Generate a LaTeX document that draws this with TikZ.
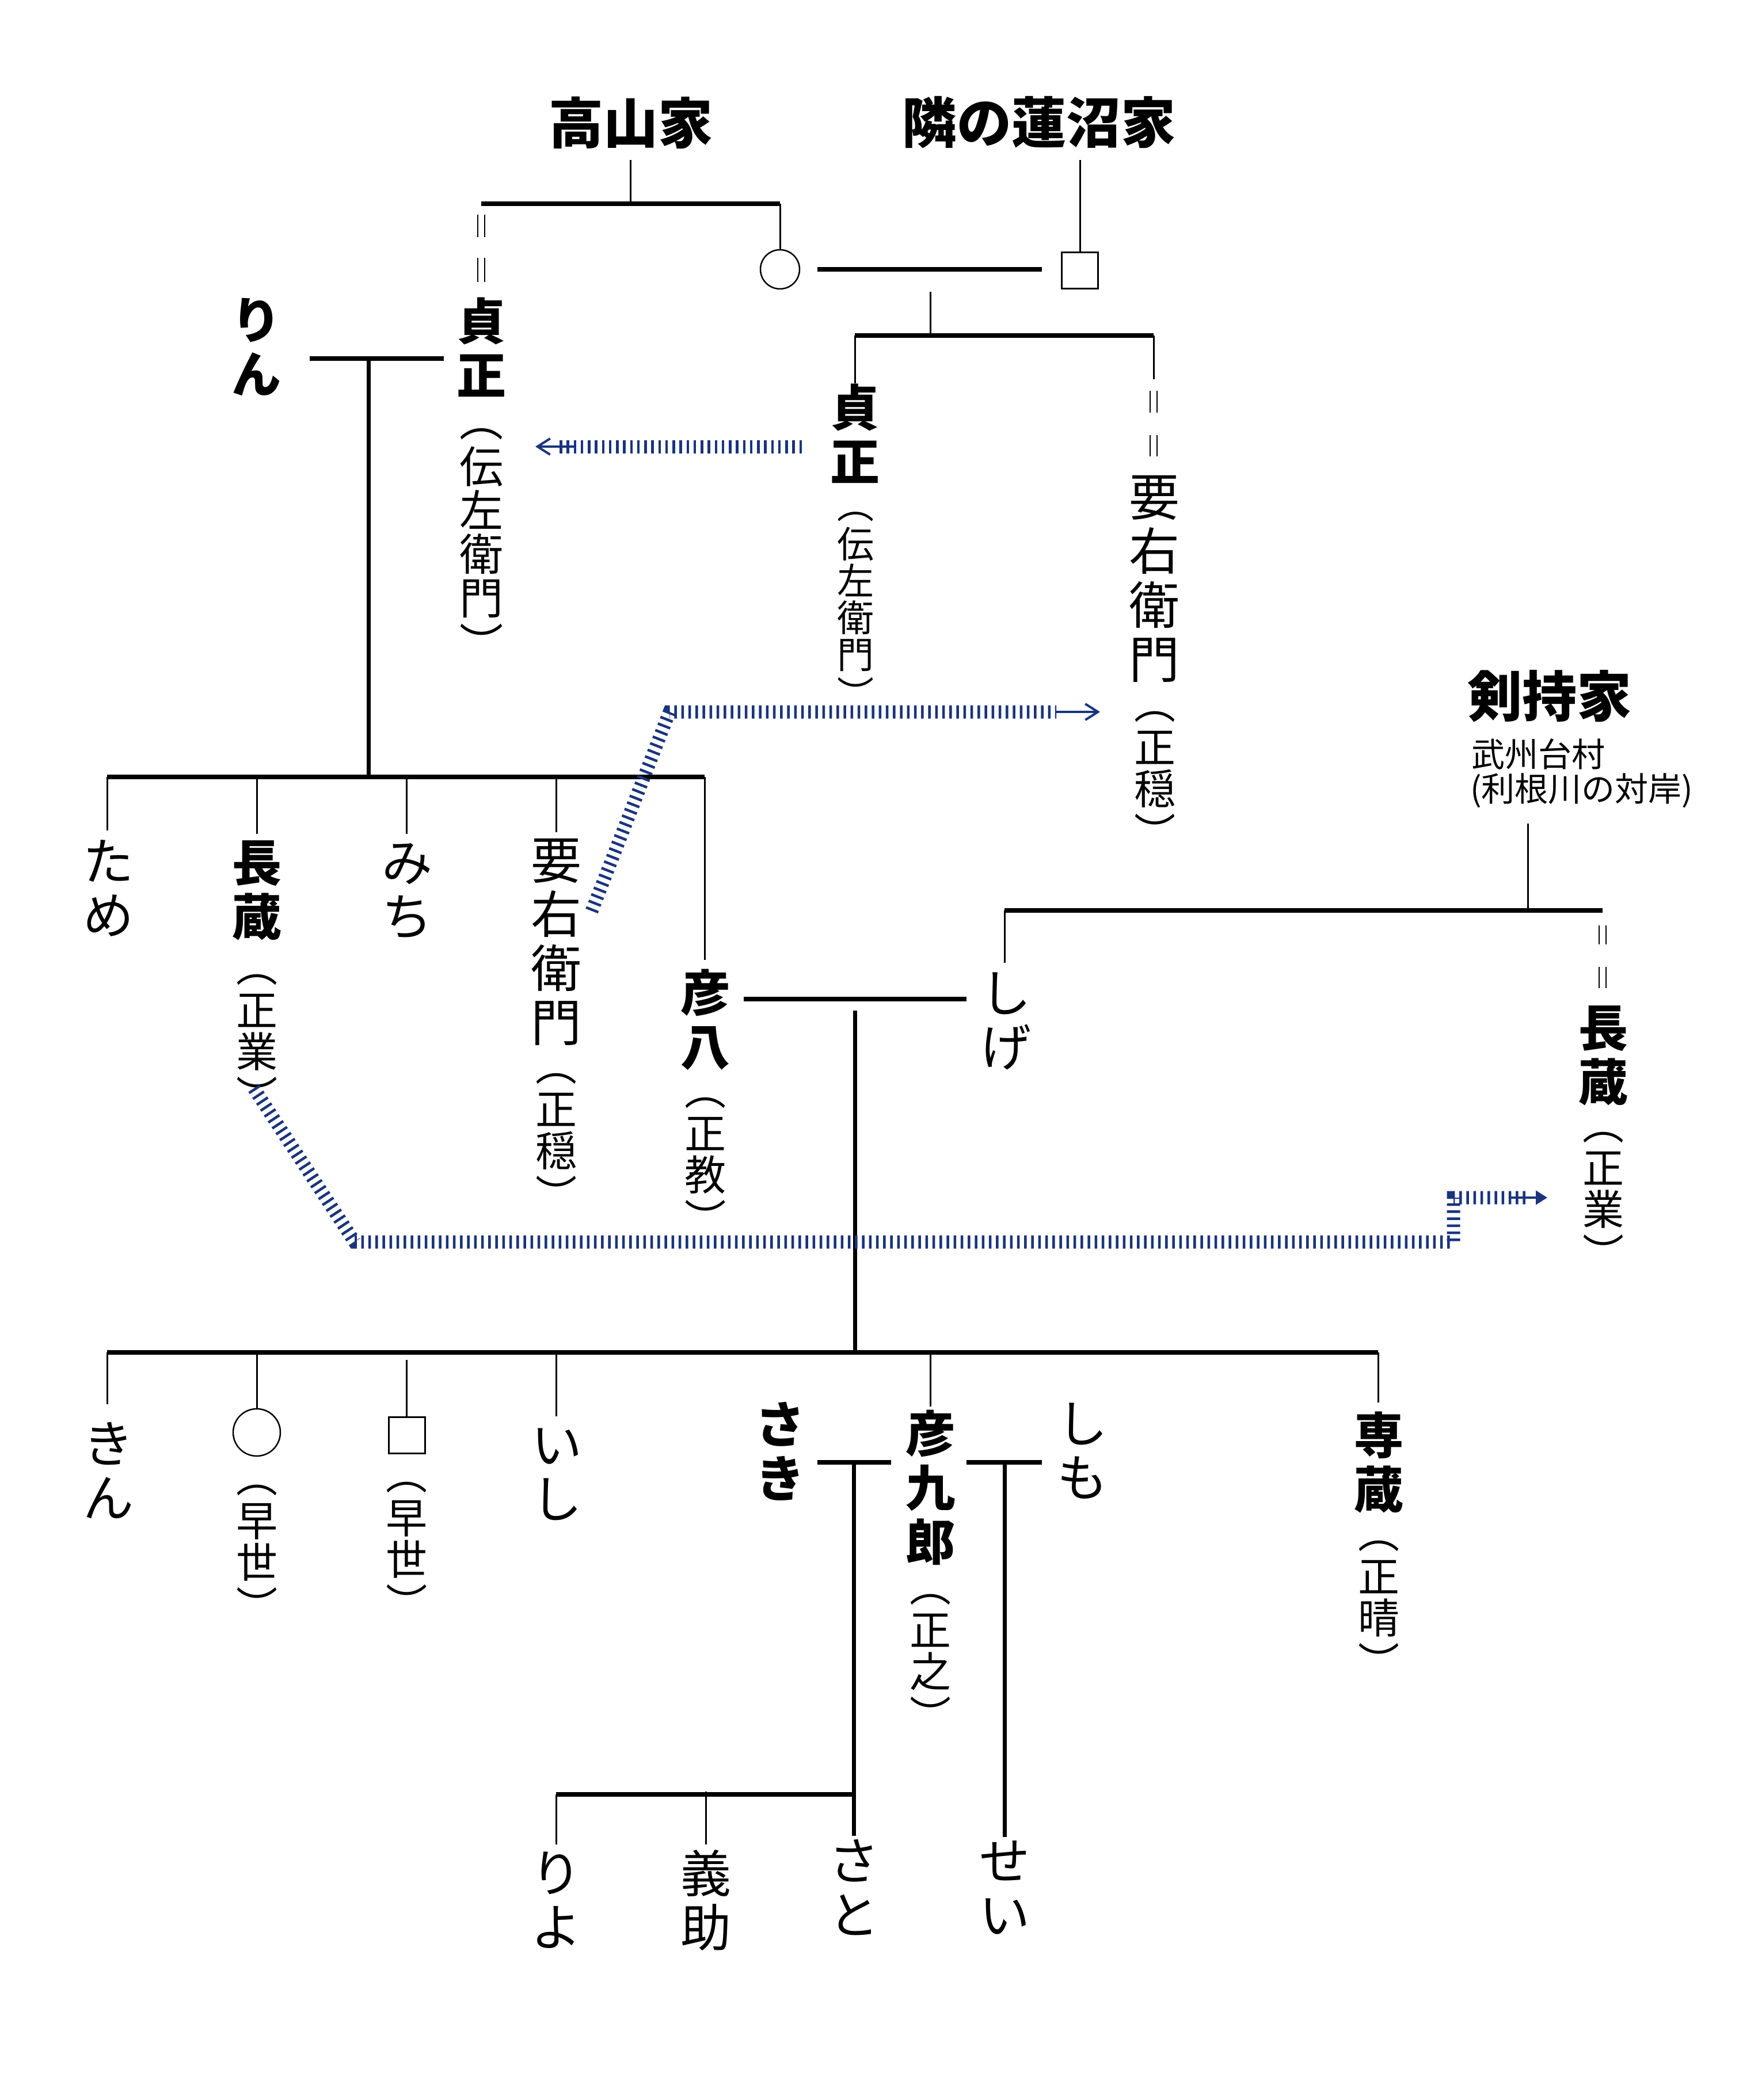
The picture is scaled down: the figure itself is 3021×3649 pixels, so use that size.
\documentclass[tikz,border=0pt]{standalone}
\usepackage{fontspec}
\setmainfont{Noto Sans CJK JP}
\usetikzlibrary{arrows.meta}
\definecolor{navyhatch}{RGB}{26,52,125}
\newcommand{\fsz}[2]{\fontsize{#1}{#2}\selectfont\lineskiplimit=-100pt\lineskip=0pt}
\newcommand{\eqbars}[3]{\draw[lnmark] (#1-5.8,#2) -- (#1-5.8,#3) (#1+5.8,#2) -- (#1+5.8,#3);}
\newcommand{\vnote}[1]{︵\\[0.9pt]#1\\[0.9pt]︶}
\tikzset{
  lnthin/.style={line width=0.6pt},
  lnmark/.style={line width=0.5pt},
  lnbar/.style={line width=1.6pt},
  lndesc/.style={line width=1.4pt},
  vb/.style={align=center,inner sep=0pt,font=\bfseries\fsz{17.2pt}{18.8pt}},
  vr/.style={align=center,inner sep=0pt,font=\fsz{17.6pt}{18.8pt}},
  vn/.style={align=center,inner sep=0pt,font=\fsz{14.4pt}{14.4pt}},
  vnL/.style={align=center,inner sep=0pt,font=\fsz{15.2pt}{15.2pt}},
  vnS/.style={align=center,inner sep=0pt,font=\fsz{12.8pt}{12.8pt}},
  head/.style={inner sep=0pt,font=\bfseries\fsz{19pt}{19pt}},
  loc/.style={inner sep=0pt,anchor=west,font=\fsz{11.6pt}{12pt}},
  fem/.style={draw,circle,inner sep=0pt,outer sep=0pt,line width=0.5pt},
  mal/.style={draw,rectangle,inner sep=0pt,outer sep=0pt,line width=0.5pt,minimum size=12.6pt},
  hatch/.style={draw=navyhatch,line width=4.6pt,dash pattern=on 0.9pt off 1.55pt},
  hatcharrow/.style={draw=navyhatch,line width=0.8pt,-{Straight Barb[length=4.4pt,width=5.6pt]}},
  hatchtri/.style={draw=navyhatch,line width=0.8pt,-{Triangle[length=4pt,width=4.8pt,fill=navyhatch]}}
}
\begin{document}
\begin{tikzpicture}[x=0.2pt,y=-0.2pt]
\useasboundingbox[fill=white] (0,0) rectangle (3021,3649);

% ---------- family headings
\node[head] (hd1) at (1096,213) {高山家};
\node[head] (hd2) at (1805,213) {隣の蓮沼家};
\node[head] (hd3) at (2692,1210) {剣持家};
\node[loc] (loc1) at (2555,1310) {武州台村};
\node[loc] (loc2) at (2553,1374) {(利根川の対岸)};

% ---------- generation 0
\node[fem,minimum size=13.6pt] (f1) at (1355,468) {};
\node[mal] (m1) at (1876,470) {};

% ---------- generation 1
\node[vb] (rin) at (445,603) {り\\ん};
\node[vb] (sadaL) at (836,603) {貞\\正};
\node[vnL] (sadaLn) at (836,946) {\vnote{伝\\左\\衛\\門}};
\node[vb] (sadaC) at (1485,753) {貞\\正};
\node[vnS] (sadaCn) at (1486,1060) {\vnote{伝\\左\\衛\\門}};
\node[vr] (yoemR) at (2005,1006) {要\\右\\衛\\門};
\node[vn] (yoemRn) at (2006,1355) {\vnote{正\\穏}};

% ---------- generation 2
\node[vr] (tame) at (188,1543) {た\\め};
\node[vb] (chozoL) at (446,1547) {長\\蔵};
\node[vn] (chozoLn) at (446,1812) {\vnote{正\\業}};
\node[vr] (michi) at (707,1548) {み\\ち};
\node[vr] (yoem) at (966,1637) {要\\右\\衛\\門};
\node[vn] (yoemn) at (966,1984) {\vnote{正\\穏}};
\node[vb] (hikohachi) at (1225,1772) {彦\\八};
\node[vn] (hikohachin) at (1225,2026) {\vnote{正\\教}};
\node[vr] (shige) at (1747,1774) {し\\げ};
\node[vb] (chozoR) at (2785,1834) {長\\蔵};
\node[vn] (chozoRn) at (2785,2086) {\vnote{正\\業}};

% ---------- generation 3
\node[vr] (kin) at (189,2555) {き\\ん};
\node[fem,minimum size=16.4pt] (f2) at (446,2489) {};
\node[vn] (f2n) at (446,2699) {\vnote{早\\世}};
\node[mal] (m2) at (707,2494) {};
\node[vn] (m2n) at (706,2694) {\vnote{早\\世}};
\node[vr] (ishi) at (967,2562) {い\\し};
\node[vb] (saki) at (1355,2522) {さ\\き};
\node[vb] (hikokuro) at (1616,2585) {彦\\九\\郎};
\node[vn] (hikokuron) at (1616,2889) {\vnote{正\\之}};
\node[vr] (shimo) at (1880,2521) {し\\も};
\node[vb] (senzo) at (2395,2541) {専\\蔵};
\node[vn] (senzon) at (2395,2796) {\vnote{正\\晴}};

% ---------- generation 4
\node[vr] (riyo) at (966,3302) {り\\よ};
\node[vr] (gisuke) at (1226,3302) {義\\助};
\node[vr] (sato) at (1483,3280) {さ\\と};
\node[vr] (sei) at (1745,3280) {せ\\い};

% ---------- junction coordinates
\coordinate (t1top) at (1095,278);
\coordinate (b1L) at (836,354);
\coordinate (b1M) at (1095,354);
\coordinate (b1R) at (1355,354);
\coordinate (h1top) at (1876,278);
\coordinate (mA1) at (1420,468);
\coordinate (mA2) at (1810,468);
\coordinate (c1top) at (1616,507);
\coordinate (b2L) at (1485,583);
\coordinate (b2M) at (1616,583);
\coordinate (b2R) at (2004,583);
\coordinate (b2Rd) at (2004,659);
\coordinate (mB1) at (538,623);
\coordinate (mB2) at (771,623);
\coordinate (mBm) at (640,623);
\coordinate (b3L) at (186,1350);
\coordinate (b3a) at (446,1350);
\coordinate (b3b) at (706,1350);
\coordinate (b3c) at (966,1350);
\coordinate (b3M) at (640,1350);
\coordinate (b3R) at (1224,1350);
\coordinate (k1top) at (2654,1431);
\coordinate (b4L) at (1745,1582);
\coordinate (b4M) at (2654,1582);
\coordinate (b4R) at (2784,1582);
\coordinate (mC1) at (1292,1736);
\coordinate (mC2) at (1679,1736);
\coordinate (dC) at (1485,1756);
\coordinate (b5L) at (186,2350);
\coordinate (b5a) at (446,2350);
\coordinate (b5b) at (706,2363);
\coordinate (b5c) at (966,2350);
\coordinate (b5M) at (1485,2350);
\coordinate (b5d) at (1616,2350);
\coordinate (b5R) at (2394,2350);
\coordinate (mD1) at (1420,2541);
\coordinate (mD2) at (1548,2541);
\coordinate (mDm) at (1483,2541);
\coordinate (mE1) at (1679,2541);
\coordinate (mE2) at (1810,2541);
\coordinate (mEm) at (1745,2541);
\coordinate (b6L) at (966,3118);
\coordinate (b6M) at (1226,3113);
\coordinate (b6R) at (1483,3118);
\coordinate (seiTop) at (1745,3192);
\coordinate (satoTop) at (1483,3190);
\coordinate (riyoTop) at (966,3205);
\coordinate (gisukeTop) at (1226,3205);

% ---------- top families
\draw[lnthin] (t1top) -- (b1M);
\draw[lnbar] (b1L) -- (b1R);
\draw[lnthin] (b1R) -- (f1.north);
\eqbars{836}{373}{412}
\eqbars{836}{448}{490}
\draw[lnthin] (h1top) -- (m1.north);
\draw[lnbar] (mA1) -- (mA2);
\draw[lnthin] (c1top) -- (b2M);
\draw[lnbar] (b2L) -- (b2R);
\draw[lnthin] (b2L) -- (b2L |- sadaC.north);
\draw[lnthin] (b2R) -- (b2Rd);
\eqbars{2004}{679}{717}
\eqbars{2004}{756}{793}

% ---------- rin & sadamasa
\draw[lnbar] (mB1) -- (mB2);
\draw[lndesc] (mBm) -- (b3M);
\draw[lnbar] (b3L) -- (b3R);
\draw[lnthin] (b3L) -- ([yshift=3pt]tame.north -| b3L);
\draw[lnthin] (b3a) -- ([yshift=2pt]chozoL.north);
\draw[lnthin] (b3b) -- ([yshift=3pt]michi.north -| b3b);
\draw[lnthin] (b3c) -- ([yshift=2pt]yoem.north -| b3c);
\draw[lnthin] (b3R) -- ([yshift=3pt]hikohachi.north -| b3R);

% ---------- kenmochi
\draw[lnthin] (k1top) -- (b4M);
\draw[lnbar] (b4L) -- (b4R);
\draw[lnthin] (b4L) -- ([yshift=3pt]shige.north -| b4L);
\eqbars{2784}{1608}{1641}
\eqbars{2784}{1680}{1717}

% ---------- hikohachi & shige
\draw[lnbar] (mC1) -- (mC2);
\draw[lndesc] (dC) -- (b5M);
\draw[lnbar] (b5L) -- (b5R);
\draw[lnthin] (b5L) -- ([yshift=6pt]kin.north -| b5L);
\draw[lnthin] (b5a) -- (f2.north);
\draw[lnthin] (b5b) -- (m2.north -| b5b);
\draw[lnthin] (b5c) -- ([yshift=4pt]ishi.north -| b5c);
\draw[lnthin] (b5d) -- ([yshift=1pt]hikokuro.north);
\draw[lnthin] (b5R) -- ([yshift=3pt]senzo.north -| b5R);

% ---------- generation 3 marriages
\draw[lnbar] (mD1) -- (mD2);
\draw[lndesc] (mDm) -- (satoTop);
\draw[lnbar] (mE1) -- (mE2);
\draw[lndesc] (mEm) -- (seiTop);
\draw[lnbar] (b6L) -- (b6R);
\draw[lnthin] (b6L) -- (riyoTop);
\draw[lnthin] (b6M) -- (gisukeTop);

% ---------- blue hatched transfer arrows
\coordinate (hA1) at (1393,776);
\coordinate (hA2) at (967,776);
\coordinate (aA1) at (1000,776);
\coordinate (aA2) at (930,776);
\draw[hatch] (hA1) -- (hA2);
\draw[hatcharrow] (aA1) -- (aA2);

\coordinate (hB1) at (1028,1583);
\coordinate (hB2) at (1163,1237);
\coordinate (hB3) at (1835,1237);
\coordinate (aB2) at (1911,1237);
\draw[hatch] (hB1) -- (hB2) -- (hB3);
\draw[hatcharrow] (hB3) -- (aB2);

\coordinate (hC1) at (441,1891);
\coordinate (hC2) at (616,2158);
\coordinate (hC3) at (2525,2158);
\coordinate (hC4) at (2525,2081);
\coordinate (hC5) at (2653,2081);
\coordinate (aC1) at (2622,2081);
\coordinate (aC2) at (2688,2081);
\draw[hatch] (hC1) -- (hC2) -- (hC3) -- (hC4) -- (hC5);
\draw[hatchtri] (aC1) -- (aC2);
\end{tikzpicture}
\end{document}
